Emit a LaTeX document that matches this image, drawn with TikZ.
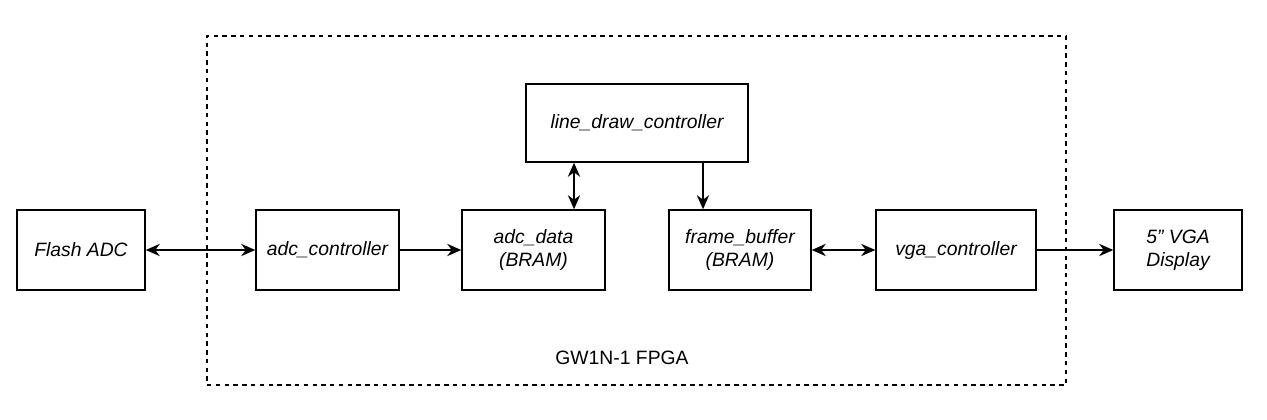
\documentclass[tikz,border=0pt]{standalone}
\usepackage{fontspec}
\setmainfont{Liberation Sans}
\usetikzlibrary{arrows.meta}

\begin{document}
\begin{tikzpicture}[x=0.02cm, y=-0.02cm,
    block/.style={draw, line width=0.9pt, minimum height=1.6cm, align=center, font=\fontsize{11}{13}\selectfont\itshape, inner sep=0pt},
    link/.style={line width=0.9pt, -{Stealth[length=8pt, width=7pt]}},
    biglink/.style={line width=0.9pt, {Stealth[length=8pt, width=7pt]}-{Stealth[length=8pt, width=7pt]}}]
\useasboundingbox (0,0) rectangle (1267,419);
\node [draw, dashed, dash pattern=on 2.5pt off 2.5pt, line width=0.7pt, minimum width=17.18cm, minimum height=6.98cm, inner sep=0pt] (fpga) at (636.5,210.5) {};
\node [font=\fontsize{11}{13}\selectfont] (fpgalabel) at (622,358) {GW1N-1 FPGA};
\node [block, minimum width=2.56cm] (flash) at (81,250) {Flash ADC};
\node [block, minimum width=2.86cm] (adcctl) at (327.5,250) {adc\_controller};
\node [block, minimum width=2.86cm] (adcdata) at (533.5,250) {adc\_data\\(BRAM)};
\node [block, minimum width=4.44cm, minimum height=1.56cm] (linedraw) at (637,123) {line\_draw\_controller};
\node [block, minimum width=2.84cm] (framebuf) at (740,250) {frame\_buffer\\(BRAM)};
\node [block, minimum width=3.2cm] (vgactl) at (956,250) {vga\_controller};
\node [block, minimum width=2.56cm] (display) at (1178,250) {5\symbol{34} VGA\\Display};
\coordinate (ldleft) at (574,0);
\coordinate (ldright) at (703,0);
\draw [biglink] (flash) -- (adcctl);
\draw [link] (adcctl) -- (adcdata);
\draw [biglink] (linedraw.south -| ldleft) -- (adcdata.north -| ldleft);
\draw [link] (linedraw.south -| ldright) -- (framebuf.north -| ldright);
\draw [biglink] (framebuf) -- (vgactl);
\draw [link] (vgactl) -- (display);
\end{tikzpicture}
\end{document}
